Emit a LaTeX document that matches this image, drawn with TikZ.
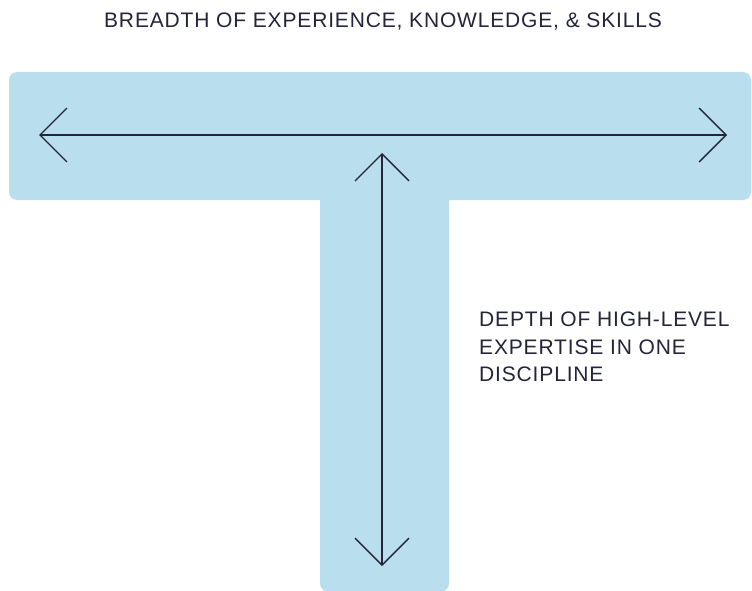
\documentclass[tikz,border=0pt]{standalone}
\usepackage{fontspec}
\setmainfont{Liberation Sans}
\usetikzlibrary{arrows.meta}
\definecolor{barblue}{HTML}{B9DFEE}
\definecolor{ink}{HTML}{24243A}
\begin{document}
\begin{tikzpicture}[x=1pt,y=-1pt,
  bar/.style={fill=barblue,draw=none,rounded corners=8pt},
  dbl/.style={draw=ink,line width=1.3pt,{Straight Barb[length=27pt,width=54pt]}-{Straight Barb[length=27pt,width=54pt]}},
  lbl/.style={text=ink,font=\fontsize{21}{27.5}\selectfont\addfontfeature{LetterSpace=4}}]
\useasboundingbox (0,0) rectangle (752,591);
\fill[bar] (9,72) rectangle (751,200);
\fill[bar] (320,180) rectangle (449,591.5);
\coordinate (L) at (39,135);
\coordinate (R) at (727,135);
\coordinate (T) at (382,153);
\coordinate (B) at (382,566);
\draw[dbl] (L) -- (R);
\draw[dbl] (T) -- (B);
\node[lbl,anchor=center] (top) at (383,22) {BREADTH OF EXPERIENCE, KNOWLEDGE, \& SKILLS};
\node[lbl,anchor=north west,align=left,inner sep=0pt] (side) at (479,312) {DEPTH OF HIGH-LEVEL\\EXPERTISE IN ONE\\DISCIPLINE};
\end{tikzpicture}
\end{document}
